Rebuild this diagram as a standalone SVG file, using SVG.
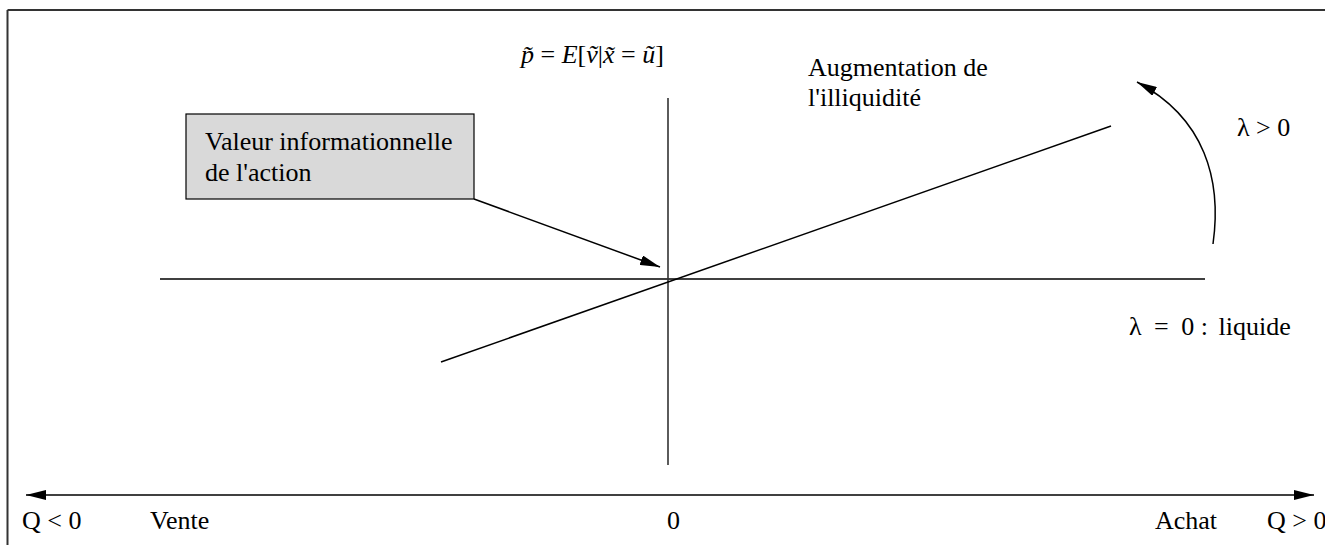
<svg xmlns="http://www.w3.org/2000/svg" width="1325" height="545" viewBox="0 0 1325 545">
<style>
text{font-family:"Liberation Serif","Times New Roman",serif;font-size:26px;fill:#000}
.it{font-style:italic}
.ln{stroke:#000;stroke-width:1.5;fill:none}
</style>
<defs>
<marker id="ah" viewBox="0 0 20 10" refX="20" refY="5" markerWidth="20" markerHeight="10" markerUnits="userSpaceOnUse" orient="auto-start-reverse">
<path d="M0,0 L20,5 L0,10 Z" fill="#000"/>
</marker>
</defs>
<rect width="1325" height="545" fill="#fff"/>
<g id="border">
<line x1="7.5" y1="10" x2="1325" y2="10" stroke="#333" stroke-width="2"/>
<line x1="7.5" y1="10" x2="7.5" y2="545" stroke="#333" stroke-width="2"/>
</g>
<g id="connectors">
<line class="ln" x1="160" y1="279" x2="1205" y2="279"/>
<line x1="668" y1="98" x2="668" y2="465" stroke="#333" stroke-width="1.6"/>
<line class="ln" x1="441" y1="362" x2="1111" y2="126"/>
<line class="ln" x1="474" y1="199" x2="660" y2="267" marker-end="url(#ah)"/>
<line class="ln" x1="26" y1="495" x2="1314" y2="495" marker-start="url(#ah)" marker-end="url(#ah)"/>
<path class="ln" d="M1213,244 C1222,180 1205,118 1137,82" marker-end="url(#ah)"/>
</g>
<g id="box">
<rect x="186" y="114" width="288" height="85" fill="#d9d9d9" stroke="#000" stroke-width="1.2"/>
<text x="205" y="150">Valeur informationnelle</text>
<text x="205" y="181">de l'action</text>
</g>
<g id="labels">
<text x="521" y="63"><tspan class="it">p̃</tspan> = <tspan class="it">E</tspan>[<tspan class="it">ṽ</tspan>|<tspan class="it">x̃</tspan> = <tspan class="it">ũ</tspan>]</text>
<text x="808" y="76">Augmentation de</text>
<text x="808" y="106">l'illiquidité</text>
<text x="1237" y="136">λ &gt; 0</text>
<text x="1129" y="335">λ<tspan dx="6"> =</tspan><tspan dx="6"> 0 :</tspan><tspan dx="4"> liquide</tspan></text>
<text x="22" y="529">Q &lt; 0</text>
<text x="150" y="529">Vente</text>
<text x="667" y="529">0</text>
<text x="1155" y="529">Achat</text>
<text x="1267" y="529">Q &gt; 0</text>
</g>
</svg>
